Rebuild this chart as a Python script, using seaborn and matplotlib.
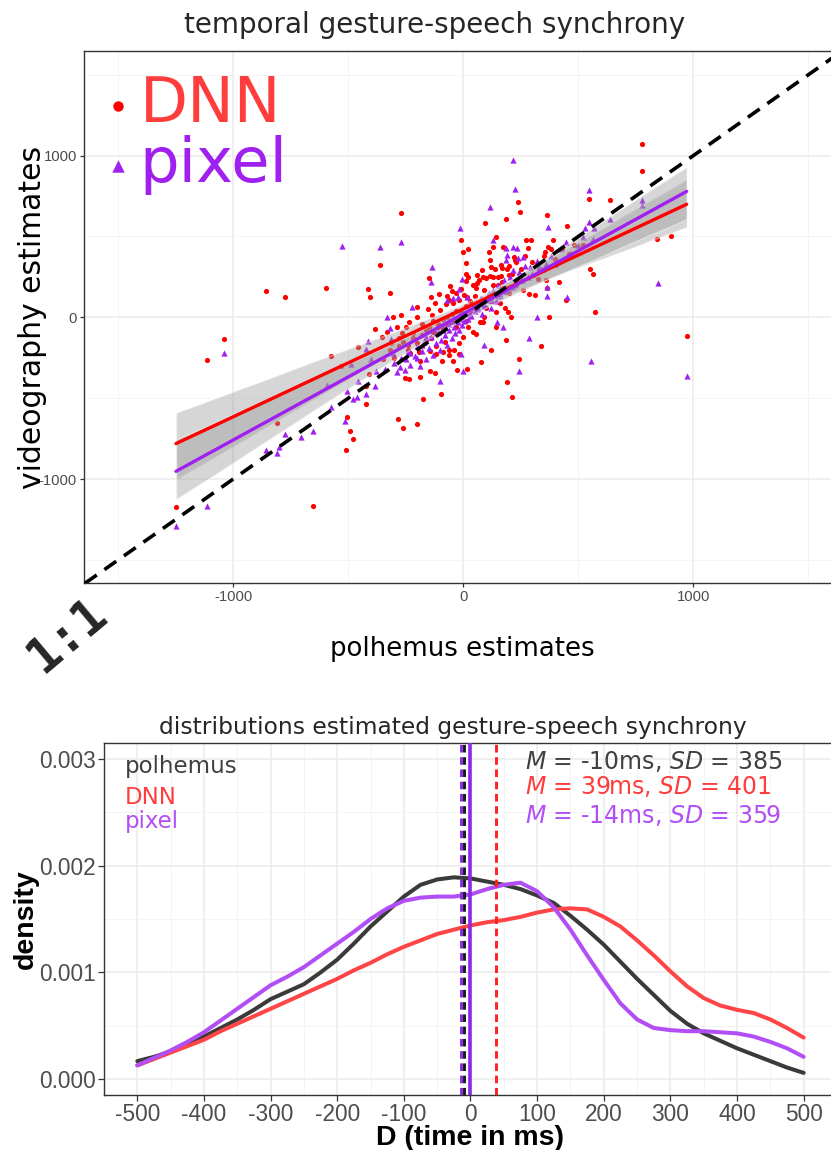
import matplotlib
matplotlib.use("Agg")
import numpy as np
import pandas as pd
import matplotlib.pyplot as plt
import seaborn as sns
from matplotlib.ticker import MultipleLocator

# ===== top panel: gesture-speech synchrony estimates (ms) =====
dnn_polhemus = [-1249, -1116, -1040, -859, -809, -775, -655, -597, -575, -533,
                -511, -507, -493, -478, -458, -424, -424, -413, -409, -404,
                -384, -362, -352, -333, -317, -313, -307, -287, -283, -281,
                -272, -271, -268, -261, -253, -250, -239, -235, -235, -232,
                -220, -203, -203, -200, -191, -188, -188, -180, -177, -160,
                -153, -148, -145, -145, -142, -140, -136, -130, -123, -123,
                -120, -120, -110, -104, -101, -98, -94, -90, -90, -80,
                -75, -70, -70, -60, -60, -60, -58, -50, -50, -43,
                -43, -40, -30, -30, -29, -20, -20, -17, -10, -10,
                -9, 0, 0, 5, 10, 10, 12, 13, 15, 15,
                20, 20, 22, 30, 40, 43, 50, 55, 55, 58,
                60, 70, 73, 76, 81, 84, 85, 90, 96, 100,
                100, 113, 115, 116, 120, 120, 122, 130, 130, 137,
                140, 142, 142, 150, 160, 163, 165, 167, 170, 174,
                180, 184, 187, 189, 193, 197, 199, 200, 209, 213,
                219, 225, 229, 230, 239, 244, 245, 247, 260, 273,
                281, 285, 293, 313, 326, 338, 355, 358, 363, 363,
                368, 374, 391, 417, 447, 450, 520, 547, 552, 565,
                571, 639, 776, 778, 842, 904, 971,
                # dense centre of the cloud
                -350, -320, -300, -280, -260, -240, -220, -200, -180, -160,
                -150, -130, -110, -90, -70, -50, -30, -10, 10, 30,
                50, 70, 90, 110, 130, 150, 170, 190, 210, 230,
                250, 270, 300, 330, 350, 380, 400, 430, 460, 480]
dnn_video = [-1175, -262, -134, 165, -652, 127, -1165, 181, -238, -301,
             -823, -615, -703, -753, -186, -425, -536, 173, -351, 127,
             -74, 322, -124, -89, 148, -161, 0, -58, -627, -130,
             16, 647, -95, -683, -378, -60, -173, -29, -382, -223,
             -100, 4, -660, 66, -213, -270, -367, -40, -505, -80,
             51, 241, -210, -330, 124, -130, 16, -20, 90, -343,
             -180, -225, -60, 144, 45, -474, -270, -215, -10, -150,
             82, 130, -40, 105, -200, -235, 194, 160, 20, 87,
             -270, -205, 150, -60, -326, 110, -160, -227, 175, 30,
             476, 406, -120, 140, 268, -20, 223, 338, 125, -322,
             424, -60, 247, 40, 200, -91, 60, 180, -105, 262,
             215, 230, -27, -274, 293, -29, 250, 4, 581, 245,
             60, 406, 255, 354, 313, 100, -204, 437, 250, 297,
             30, 499, -62, 200, 90, 257, 324, 303, 180, 433,
             60, 606, -140, -398, 33, 317, 260, 150, 0, -495,
             375, 353, 231, 200, 711, -258, 650, 264, 170, 478,
             429, 144, 478, 140, 237, -175, 402, 231, 631, 179,
             433, 2, 478, 216, 107, 563, 449, 732, 301, 266,
             35, 724, 1072, 903, 484, 505, -114,
             -260, -200, -250, -180, -150, -200, -130, -160, -110, -140,
             -60, -90, -40, -70, 0, -30, 40, -10, 70, 100,
             130, 90, 170, 140, 200, 250, 220, 300, 270, 340,
             300, 380, 340, 300, 380, 420, 360, 420, 390, 450]

pixel_polhemus = [-1249, -1116, -1040, -858, -809, -800, -775, -707, -655, -594,
                  -577, -529, -514, -507, -488, -478, -463, -458, -423, -423,
                  -413, -403, -384, -362, -333, -319, -316, -304, -290, -275,
                  -271, -253, -250, -232, -230, -224, -210, -203, -200, -190,
                  -180, -170, -160, -150, -142, -140, -137, -130, -120, -110,
                  -103, -100, -95, -85, -80, -72, -70, -60, -55, -50,
                  -45, -40, -35, -25, -23, -20, -17, -13, -11, -10,
                  -7, -5, -3, 5, 10, 15, 20, 25, 35, 40,
                  50, 55, 65, 75, 80, 90, 91, 100, 110, 117,
                  120, 130, 130, 140, 145, 150, 160, 171, 175, 184,
                  186, 189, 190, 205, 215, 217, 217, 220, 226, 232,
                  239, 240, 242, 255, 261, 270, 287, 290, 300, 320,
                  322, 340, 363, 365, 368, 380, 400, 420, 448, 450,
                  470, 500, 522, 529, 547, 547, 555, 565, 570, 639,
                  776, 778, 845, 971,
                  # dense centre of the cloud
                  -380, -340, -300, -270, -240, -180, -160, -120, -90, -60,
                  -30, 0, 30, 60, 90, 120, 150, 180, 210, 250,
                  280, 330, 360]
pixel_video = [-1291, -1165, -223, -821, -838, -800, -722, -739, -701, -419,
               -553, 441, -641, -454, -291, -505, -491, -396, -476, -198,
               -145, -260, -425, 437, 4, -68, -136, -223, -336, -305,
               464, -326, -260, -295, -220, 66, -240, -254, -180, -300,
               -210, -150, -260, -190, 216, -120, 313, -230, -160, -90,
               -392, -200, -140, -60, -110, 107, -170, -80, -20, -130,
               118, -60, -100, -30, 125, -80, 173, 554, -227, 10,
               235, -50, -332, -20, 30, 127, -10, 50, 10, 70,
               40, 90, 60, 120, 20, 80, -171, 110, 150, 684,
               60, 478, 170, 100, -31, 200, 140, -58, 230, 427,
               354, 385, 170, 250, 973, 437, 293, 200, 794, 427,
               365, 280, -332, 230, 375, 320, -130, 313, 270, 350,
               4, 300, 186, 132, 559, 380, 330, 420, 468, 127,
               400, 450, 499, 554, 788, 588, -270, 483, 554, 606,
               726, 695, 210, -361,
               -330, -320, -280, -250, -210, -170, -120, -100, -80, -40,
               -20, -10, 20, 50, 70, 110, 130, 160, 190, 240,
               250, 310, 330]

# ===== bottom panel: density of D (ms) =====
d_ms = [-500, -475, -450, -425, -400, -375, -350, -325, -300, -275,
        -250, -225, -200, -175, -150, -125, -100, -75, -50, -25,
        0, 25, 50, 75, 100, 125, 150, 175, 200, 225,
        250, 275, 300, 325, 350, 375, 400, 425, 450, 475,
        500]
dens_polhemus = [0.00017, 0.00021, 0.00026, 0.00033, 0.00040, 0.00048, 0.00056, 0.00065, 0.00075, 0.00082,
                 0.00089, 0.00100, 0.00112, 0.00127, 0.00143, 0.00157, 0.00171, 0.00182, 0.00187, 0.00189,
                 0.00188, 0.00185, 0.00182, 0.00178, 0.00172, 0.00165, 0.00153, 0.00140, 0.00126, 0.00110,
                 0.00094, 0.00079, 0.00064, 0.00052, 0.00043, 0.00036, 0.00029, 0.00023, 0.00017, 0.00011,
                 0.00006]
dens_dnn = [0.00013, 0.00019, 0.00025, 0.00031, 0.00037, 0.00045, 0.00052, 0.00059, 0.00066, 0.00073,
            0.00080, 0.00087, 0.00094, 0.00102, 0.00109, 0.00117, 0.00124, 0.00130, 0.00136, 0.00140,
            0.00144, 0.00147, 0.00149, 0.00152, 0.00156, 0.00159, 0.00160, 0.00159, 0.00152, 0.00143,
            0.00130, 0.00116, 0.00101, 0.00087, 0.00076, 0.00069, 0.00065, 0.00062, 0.00056, 0.00048,
            0.00039]
dens_pixel = [0.00013, 0.00020, 0.00027, 0.00035, 0.00044, 0.00055, 0.00066, 0.00077, 0.00088, 0.00096,
              0.00105, 0.00116, 0.00127, 0.00138, 0.00150, 0.00160, 0.00167, 0.00170, 0.00171, 0.00171,
              0.00173, 0.00178, 0.00182, 0.00184, 0.00176, 0.00161, 0.00140, 0.00116, 0.00093, 0.00071,
              0.00056, 0.00048, 0.00046, 0.00045, 0.00045, 0.00044, 0.00043, 0.00040, 0.00035, 0.00029,
              0.00021]
methods = ["polhemus", "DNN", "pixel"]
mean_ms = [-10, 39, -14]
sd_ms = [385, 401, 359]

RED = "#ff0000"
PURPLE = "#a020f0"
GRID = "#ebebeb"
BORDER = "#333333"
TICKTXT = "#4d4d4d"

sns.set_theme(style="white")
plt.rcParams["font.family"] = ["DejaVu Sans"]
plt.rcParams["axes.unicode_minus"] = False
plt.rcParams["mathtext.fontset"] = "dejavusans"

W, H = 831, 1150
fig = plt.figure(figsize=(W / 100, H / 100), dpi=100)


def style_axes(ax, tick_size, tick_len):
    ax.set_facecolor("white")
    ax.set_axisbelow(True)
    ax.grid(True, which="major", color=GRID, lw=1.1)
    ax.grid(True, which="minor", color="#f2f2f2", lw=0.6)
    for side in ["left", "bottom", "top", "right"]:
        ax.spines[side].set_color(BORDER)
        ax.spines[side].set_linewidth(1.0)
    ax.tick_params(which="major", direction="out", length=tick_len, width=0.9,
                   color=BORDER, labelsize=tick_size, labelcolor=TICKTXT, pad=2,
                   left=True, bottom=True)
    ax.tick_params(which="minor", length=0)
    for lab in ax.get_xticklabels() + ax.get_yticklabels():
        lab.set_family("Liberation Sans")


# ---------------- top panel ----------------
ax1 = fig.add_axes([84 / W, 1 - 583.3 / H, 758.6 / W, 532.3 / H])
df_dnn = pd.DataFrame({"polhemus": dnn_polhemus, "video": dnn_video})
df_pix = pd.DataFrame({"polhemus": pixel_polhemus, "video": pixel_video})

sns.scatterplot(data=df_dnn, x="polhemus", y="video", color=RED, marker="o", s=14,
                linewidth=0, label="DNN", ax=ax1, zorder=3)
sns.scatterplot(data=df_pix, x="polhemus", y="video", color=PURPLE, marker="^", s=20,
                linewidth=0, label="pixel", ax=ax1, zorder=3)

for df, col in [(df_dnn, RED), (df_pix, PURPLE)]:
    sns.regplot(data=df, x="polhemus", y="video", scatter=False, color=col, seed=3,
                line_kws={"lw": 2.4, "zorder": 6}, ax=ax1)
    band = ax1.collections[-1]
    band.set_facecolor("#999999")
    band.set_alpha(0.4)
    band.set_zorder(5)

ax1.axline((0, 0), slope=1, color="black", lw=2.6, ls=(0, (4, 2.6)), zorder=7)

ax1.set_xlim(-1649, 1649)
ax1.set_ylim(-1645, 1647)
ax1.set_xticks([-1000, 0, 1000], ["-1000", "0", "1000"])
ax1.set_yticks([-1000, 0, 1000], ["-1000", "0", "1000"])
ax1.xaxis.set_minor_locator(MultipleLocator(500))
ax1.yaxis.set_minor_locator(MultipleLocator(500))
style_axes(ax1, 10.7, 3)

ax1.set_xlabel("polhemus estimates", fontsize=18.7, color="black")
ax1.xaxis.set_label_coords(0.499, -0.099)
ax1.set_ylabel("videography estimates", fontsize=21.5, color="black")
ax1.yaxis.set_label_coords(-0.049, 0.5)

leg = ax1.legend(loc="upper left", bbox_to_anchor=(0.024, 0.955), fontsize=45,
                 frameon=False, handlelength=0.5, handletextpad=0.1,
                 labelspacing=0.0, borderaxespad=0, borderpad=0,
                 markerscale=2.0, labelcolor=["#ff3d3d", PURPLE])

fig.text(434.7 / W, 1 - 32.6 / H, "temporal gesture-speech synchrony",
         fontsize=20, ha="center", va="baseline")
fig.text(67 / W, 1 - 635 / H, "1:1", fontsize=35, family="DejaVu Sans Mono",
         fontweight="bold", rotation=40, ha="center", va="center")

# ---------------- bottom panel ----------------
ax2 = fig.add_axes([104 / W, 1 - 1095 / H, 733 / W, 352.3 / H])
line_cols = ["#3a3a3a", "#ff4545", "#b24ef6"]
for dens, col in zip([dens_polhemus, dens_dnn, dens_pixel], line_cols):
    sns.lineplot(x=d_ms, y=dens, color=col, lw=2.9, ax=ax2)

vline_cols = ["#1a1a1a", "#ff2020", "#8a2be2"]
for m, col in zip(mean_ms, vline_cols):
    ax2.axvline(m, color=col, lw=2.1, ls=(0, (2.6, 1.6)), zorder=4)
ax2.axvline(0, color="#8a2be2", lw=2.6, zorder=4)

ax2.set_xlim(-550, 550)
ax2.set_ylim(-0.000147, 0.00315)
ax2.set_xticks(range(-500, 501, 100), [str(v) for v in range(-500, 501, 100)])
ax2.set_yticks([0, 0.001, 0.002, 0.003], ["0.000", "0.001", "0.002", "0.003"])
ax2.xaxis.set_minor_locator(MultipleLocator(50))
ax2.yaxis.set_minor_locator(MultipleLocator(0.0005))
style_axes(ax2, 16.3, 4)

ax2.set_xlabel("D (time in ms)", fontsize=20.5, fontweight="bold",
               family="Liberation Sans", color="black")
ax2.xaxis.set_label_coords(0.4993, -0.086)
ax2.set_ylabel("density", fontsize=20.5, fontweight="bold",
               family="Liberation Sans", color="black")
ax2.yaxis.set_label_coords(-0.0887, 0.5)

text_cols = ["#404040", "#ff3d3d", "#b24ef6"]
left_y = [0.002865, 0.00258, 0.00235]
right_y = [0.0029, 0.002667, 0.0024]
for name, m, sd, col, ly, ry in zip(methods, mean_ms, sd_ms, text_cols, left_y, right_y):
    ax2.text(-519, ly, name, color=col, fontsize=16.5, va="baseline")
    ax2.text(82.5, ry, rf"$M$ = {m}ms, $SD$ = {sd}", color=col, fontsize=17,
             va="baseline")

fig.text(453 / W, 1 - 734 / H, "distributions estimated gesture-speech synchrony",
         fontsize=16.8, ha="center", va="baseline")

fig.savefig("out.png", dpi=100)
